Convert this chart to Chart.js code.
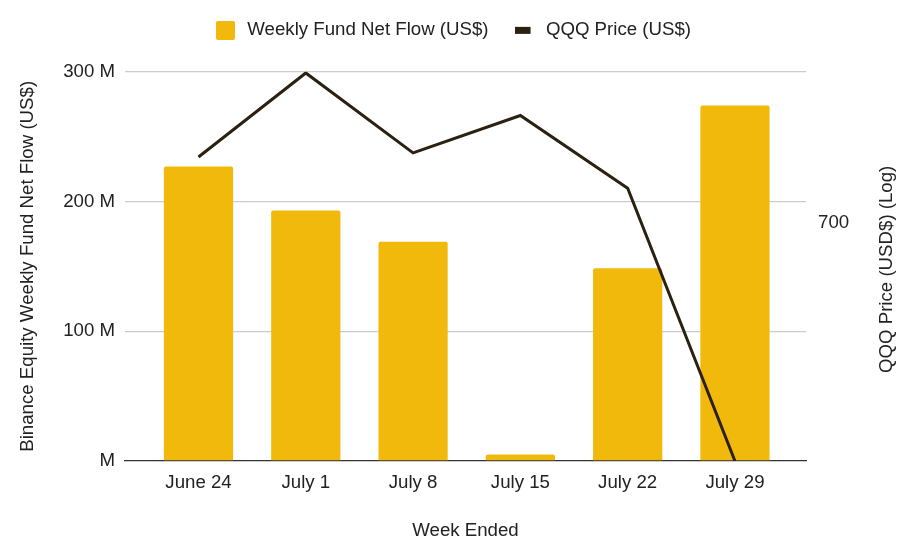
<!DOCTYPE html>
<html><head><meta charset="utf-8">
<script src="https://cdn.jsdelivr.net/npm/chart.js@4.4.0/dist/chart.umd.min.js"></script>
<style>html,body{margin:0;padding:0;background:#fff}#wrap{width:907px;height:547px}</style>
</head><body><div id="wrap"><canvas id="c" width="907" height="547"></canvas></div>
<script>
const categories = ["June 24", "July 1", "July 8", "July 15", "July 22", "July 29"];
const netFlow = [227e6, 193e6, 169e6, 5e6, 148.5e6, 274e6];
const qqqPrice = [818, 997, 826, 902, 760, 400];
const leftTicks = [0, 100e6, 200e6, 300e6];
const rightTicks = [700];
const rightTitle = 'QQQ Price (USD$) (Log)';

const FONT = "'Liberation Sans', Arial, sans-serif";
const FS = 18.67;
const YELLOW = '#F0B90B';
const DARK = '#2B2110';
const TEXT = '#222';

const barData = netFlow.map((v, i) => ({x: i, y: v}));
const lineData = qqqPrice.map((v, i) => ({x: i, y: v}));

function marker(w, h, draw) {
  const c = document.createElement('canvas');
  c.width = w; c.height = h;
  draw(c.getContext('2d'));
  return c;
}
const barMarker = marker(22, 19, g => {
  g.fillStyle = YELLOW;
  g.beginPath(); g.roundRect(0, 0, 19, 19, 2); g.fill();
});
const lineMarker = marker(22, 19, g => {
  g.fillStyle = DARK;
  g.fillRect(0, 6, 16, 7);
});

const legendGap = {
  id: 'legendGap',
  afterInit(chart) {
    const lg = chart.legend;
    const origFit = lg.fit;
    lg.fit = function () { origFit.call(this); this.height += 16; };
    const origDraw = lg.draw;
    lg.draw = function () {
      this.ctx.save(); this.ctx.translate(0, -6);
      origDraw.call(this);
      this.ctx.restore();
    };
  }
};

const rightTitlePlugin = {
  id: 'rightTitle',
  afterDraw(chart) {
    const {ctx, chartArea} = chart;
    ctx.save();
    ctx.translate(887, (chartArea.top + chartArea.bottom) / 2 + 3);
    ctx.rotate(-Math.PI / 2);
    ctx.font = `${FS}px ${FONT}`;
    ctx.fillStyle = TEXT;
    ctx.textAlign = 'center';
    ctx.textBaseline = 'middle';
    ctx.fillText(rightTitle, 0, 0);
    ctx.restore();
  }
};

new Chart(document.getElementById('c'), {
  plugins: [legendGap, rightTitlePlugin],
  data: {
    datasets: [
      {type: 'bar', label: 'Weekly Fund Net Flow (US$)', data: barData, backgroundColor: YELLOW,
       borderColor: YELLOW, borderWidth: 0, borderRadius: 2, borderSkipped: 'bottom', yAxisID: 'y',
       barPercentage: 0.645, categoryPercentage: 1, order: 2},
      {type: 'line', label: 'QQQ Price (US$)', data: lineData, borderColor: DARK, backgroundColor: DARK,
       borderWidth: 3, pointRadius: 0, tension: 0, yAxisID: 'y1', order: 1}
    ]
  },
  options: {
    responsive: false, animation: false,
    layout: {padding: {top: 1, left: 0, right: 0, bottom: 0}},
    plugins: {
      tooltip: {enabled: false},
      legend: {
        position: 'top',
        labels: {
          font: {family: FONT, size: FS}, color: TEXT,
          usePointStyle: true, pointStyleWidth: 22, boxHeight: 19, padding: 26,
          sort: (a, b) => a.datasetIndex - b.datasetIndex,
          generateLabels(chart) {
            const items = Chart.defaults.plugins.legend.labels.generateLabels(chart);
            items.forEach(it => {
              it.pointStyle = it.datasetIndex === 0 ? barMarker : lineMarker;
              it.lineWidth = 0;
            });
            return items;
          }
        }
      }
    },
    scales: {
      x: {
        type: 'linear', min: -0.685, max: 5.662, offset: false,
        afterBuildTicks(s) { s.ticks = categories.map((c, i) => ({value: i})); },
        afterFit(s) { s.height = 86; },
        ticks: {callback: (v) => categories[v] ?? '', font: {family: FONT, size: FS}, color: TEXT, padding: 11, maxRotation: 0, autoSkip: false},
        grid: {display: false, drawTicks: false},
        border: {display: true, color: '#333', width: 1.3},
        title: {display: true, text: 'Week Ended', font: {family: FONT, size: FS}, color: TEXT, padding: {top: 30, bottom: 5}}
      },
      y: {
        position: 'left', min: 0, max: 300e6,
        afterBuildTicks(s) { s.ticks = leftTicks.map(v => ({value: v})); },
        afterFit(s) { s.width = 125; },
        ticks: {callback: (v) => v === 0 ? 'M' : (v / 1e6) + ' M', font: {family: FONT, size: FS}, color: TEXT, padding: 10},
        grid: {color: (ctx) => ctx.tick && ctx.tick.value === 0 ? 'rgba(0,0,0,0)' : '#cccccc', lineWidth: 1.3, drawTicks: false},
        border: {display: false},
        title: {display: true, text: 'Binance Equity Weekly Fund Net Flow (US$)', font: {family: FONT, size: FS}, color: TEXT, padding: {top: 17, bottom: 4}}
      },
      y1: {
        type: 'logarithmic', position: 'right', min: 400, max: 1000,
        afterBuildTicks(s) { s.ticks = rightTicks.map(v => ({value: v})); },
        afterFit(s) { s.width = 101; },
        ticks: {callback: (v) => String(v), font: {family: FONT, size: FS}, color: TEXT, padding: 12},
        grid: {display: false, drawTicks: false},
        border: {display: false},
        title: {display: false}
      }
    }
  }
});
</script></body></html>
